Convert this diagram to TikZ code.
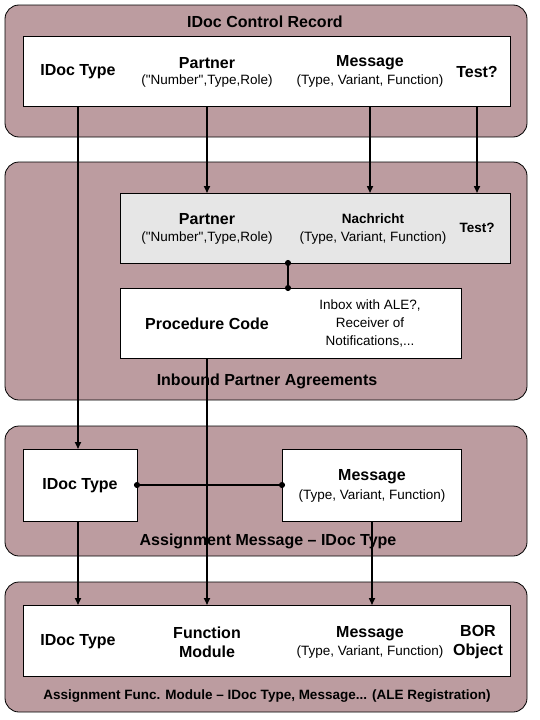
\documentclass[tikz,border=0pt]{standalone}
\usepackage{fontspec}
\setmainfont{Liberation Sans}[Ligatures=TeXOff]
\usetikzlibrary{arrows.meta}
\definecolor{panelc}{RGB}{188,156,160}
\definecolor{grayc}{RGB}{230,230,230}
\begin{document}
\begin{tikzpicture}[x=1pt,y=-1pt,
  panel/.style={draw=black, fill=panelc, rounded corners=14pt, line width=0.8pt, anchor=north west, inner sep=0pt, outer sep=0pt},
  box/.style={draw=black, fill=white, line width=0.8pt, anchor=north west, inner sep=0pt, outer sep=0pt},
  bt/.style={font=\fontsize{16}{18}\selectfont\bfseries, inner sep=0pt},
  st/.style={font=\fontsize{13.5}{15}\selectfont, inner sep=0pt},
  nt/.style={font=\fontsize{13.5}{15}\selectfont\bfseries, inner sep=0pt},
  arr/.style={line width=1.6pt, -{Triangle[length=7pt,width=6pt]}},
  dotc/.style={line width=1.6pt, {Circle[length=6pt]}-{Circle[length=6pt]}, shorten <=-3pt, shorten >=-3pt}]
\useasboundingbox (0,0) rectangle (540,720);
% panels
\node[panel, minimum width=522, minimum height=132] (p1) at (5,5) {};
\node[panel, minimum width=522, minimum height=238] (p2) at (5,162) {};
\node[panel, minimum width=522, minimum height=130] (p3) at (5,426) {};
\node[panel, minimum width=522, minimum height=130] (p4) at (5,582) {};
% boxes
\node[box, minimum width=487, minimum height=70] (b1) at (23,36) {};
\node[box, fill=grayc, minimum width=390, minimum height=70] (gray) at (120,193) {};
\node[box, minimum width=341, minimum height=70] (proc) at (120,288) {};
\node[box, minimum width=114, minimum height=72] (amidoc) at (23,449) {};
\node[box, minimum width=179, minimum height=72] (ammsg) at (282,449) {};
\node[box, minimum width=487, minimum height=71] (b4) at (23,605) {};
% panel 1 texts
\node[bt] (t1) at (265,22) {IDoc Control Record};
\node[bt] (cridoc) at (78,72) {IDoc Type};
\node[bt] (crpartner) at (207,63) {Partner};
\node[st] (crpartnersub) at (207,81) {("Number",Type,Role)};
\node[bt] (crmsg) at (370,63) {Message};
\node[st] (crmsgsub) at (370,81) {(Type, Variant, Function)};
\node[bt] (crtest) at (477,72) {Test?};
% panel 2 texts
\node[bt] (gpartner) at (207,219) {Partner};
\node[st] (gpartnersub) at (207,238) {("Number",Type,Role)};
\node[nt] (gmsg) at (373,219) {Nachricht};
\node[st] (gmsgsub) at (373,238) {(Type, Variant, Function)};
\node[nt] (gtest) at (477,228) {Test?};
\node[bt] (pctext) at (207,324) {Procedure Code};
\node[st, align=center, font=\fontsize{13.5}{18}\selectfont] (inbox) at (370,323) {Inbox with ALE?,\\Receiver of\\Notifications,...};
\node[bt] (t2) at (267,381) {Inbound Partner Agreements};
% panel 3 texts
\node[bt] (amidoctext) at (80,486) {IDoc Type};
\node[bt] (ammsgtext) at (372,477) {Message};
\node[st] (ammsgsub) at (372,496) {(Type, Variant, Function)};
\node[bt] (t3) at (268,541) {Assignment Message – IDoc Type};
% panel 4 texts
\node[bt] (fidoc) at (78,642) {IDoc Type};
\node[bt, align=center, font=\fontsize{16}{19}\selectfont\bfseries] (ffm) at (207,642) {Function\\Module};
\node[bt] (fmsg) at (370,634) {Message};
\node[st] (fmsgsub) at (370,652) {(Type, Variant, Function)};
\node[bt, align=center, font=\fontsize{16}{19}\selectfont\bfseries] (fbor) at (478,642) {BOR\\Object};
\node[nt] (t4) at (267,696) {Assignment Func. Module – IDoc Type, Message... (ALE Registration)};
% connectors
\coordinate (jx) at (288,0);
\draw[arr] (b1.south -| cridoc) -- (amidoc.north -| cridoc);
\draw[arr] (b1.south -| crpartner) -- (gray.north -| crpartner);
\draw[arr] (b1.south -| crmsg) -- (gray.north -| crmsg);
\draw[arr] (b1.south -| crtest) -- (gray.north -| crtest);
\draw[dotc] (gray.south -| jx) -- (proc.north -| jx);
\draw[arr] (proc.south -| pctext) -- (b4.north -| pctext);
\draw[dotc] (amidoc.east) -- (ammsg.west);
\draw[arr] (ammsg.south -| ammsgtext) -- (b4.north -| ammsgtext);
\draw[arr] (amidoc.south -| cridoc) -- (b4.north -| cridoc);
\end{tikzpicture}
\end{document}
